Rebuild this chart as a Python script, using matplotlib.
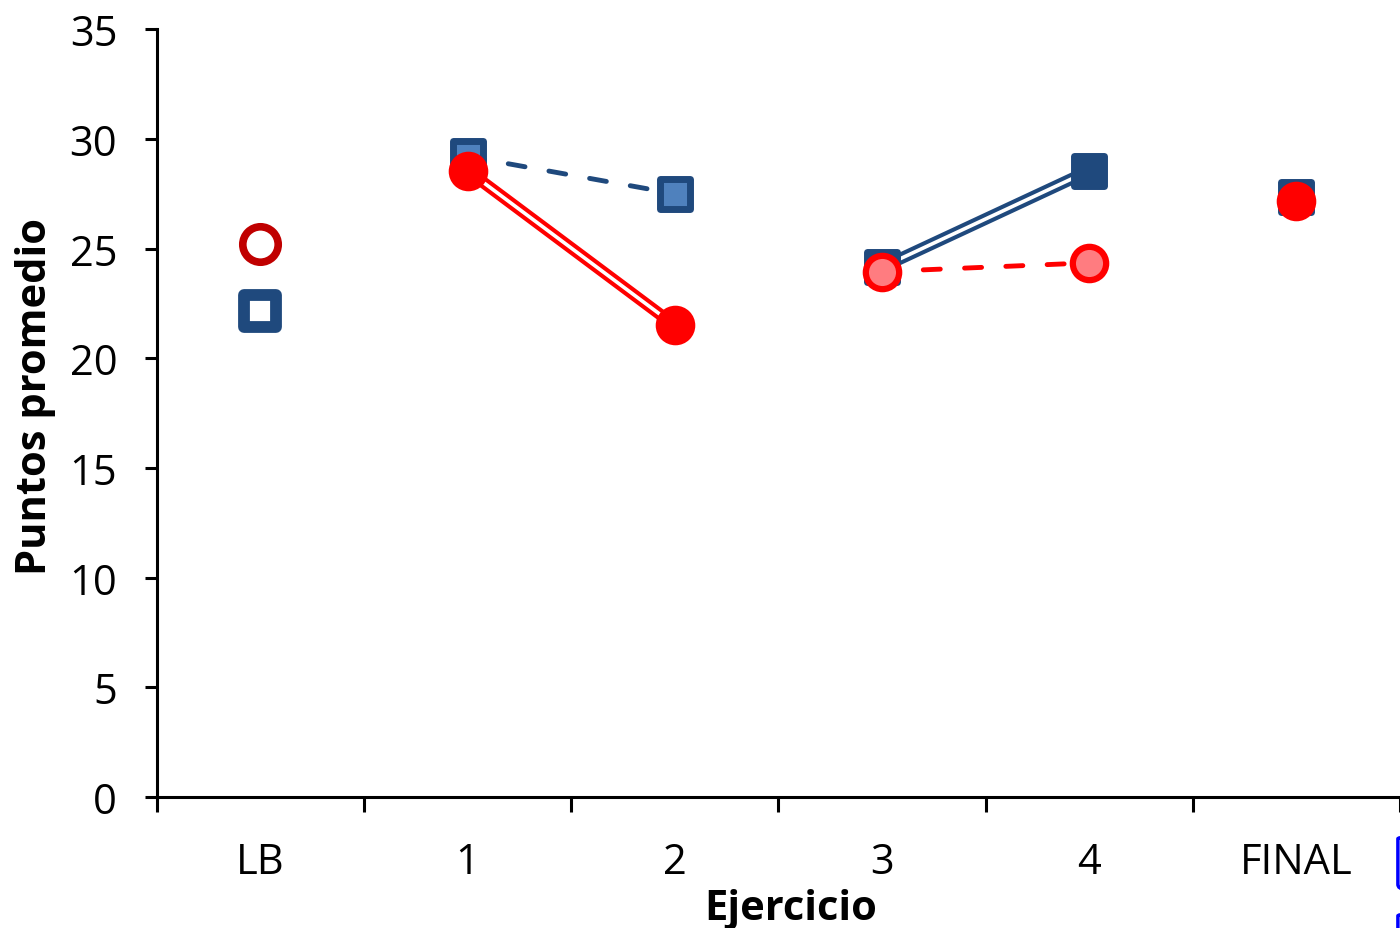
import matplotlib
matplotlib.use("Agg")
import matplotlib.pyplot as plt
from matplotlib.markers import MarkerStyle
from matplotlib.patches import FancyBboxPatch

plt.rcParams['font.family'] = ['Open Sans', 'DejaVu Sans']

categories = ['LB', '1', '2', '3', '4', 'FINAL']
blue_vals = [22.15, 29.2, 27.5, 24.15, 28.55, 27.35]
red_vals = [25.2, 28.55, 21.5, 23.95, 24.35, 27.15]

dark_blue = '#1F497D'
mid_blue = '#4F81BD'
red = '#FF0000'
dark_red = '#C00000'
light_red = '#FF7C80'

# marker face colours per point
blue_face = ['white', mid_blue, mid_blue, dark_blue, dark_blue, dark_blue]
red_face = ['white', red, red, light_red, light_red, red]

sq = MarkerStyle('s', joinstyle='round')

fig = plt.figure(figsize=(14, 9.29), dpi=100)
ax = fig.add_axes([0.112, 0.141, 0.888, 0.8265])
x = list(range(len(categories)))

# connecting lines
ax.plot(x[1:3], blue_vals[1:3], '--', color=dark_blue, lw=3.5, dashes=(3.5, 5),
        dash_capstyle='round', zorder=2)
ax.plot(x[3:5], blue_vals[3:5], '-', color=dark_blue, lw=8.5, zorder=2)
ax.plot(x[3:5], blue_vals[3:5], '-', color='white', lw=2.6, zorder=2)
ax.plot(x[1:3], red_vals[1:3], '-', color=red, lw=8.5, zorder=3)
ax.plot(x[1:3], red_vals[1:3], '-', color='white', lw=2.6, zorder=3)
ax.plot(x[3:5], red_vals[3:5], '--', color=red, lw=3.5, dashes=(3.5, 5),
        dash_capstyle='round', zorder=3)

# markers
for i in x:
    if i == 0:
        ax.plot(i, blue_vals[i], marker=sq, ms=23, mew=8.5, mfc='white', mec=dark_blue, zorder=4)
        ax.plot(i, red_vals[i], 'o', ms=25.5, mew=5.5, mfc='white', mec=dark_red, zorder=5)
    else:
        ax.plot(i, blue_vals[i], marker=sq, ms=22, mew=5, mfc=blue_face[i], mec=dark_blue, zorder=4)
        ax.plot(i, red_vals[i], 'o', ms=24, mew=4.5, mfc=red_face[i], mec=red, zorder=5)

ax.set_xlim(-0.5, 5.5)
ax.set_ylim(0, 35)
ax.set_yticks(range(0, 36, 5))
ax.set_xticks(x)
ax.set_xticklabels(categories)
ax.set_xticks([i - 0.5 for i in range(7)], minor=True)
ax.tick_params(axis='x', which='major', length=0, pad=32, labelsize=30)
ax.tick_params(axis='x', which='minor', length=11, width=2.2, direction='out')
ax.tick_params(axis='y', length=8.5, width=2.2, direction='out', pad=20, labelsize=30)

for s in ['top', 'right']:
    ax.spines[s].set_visible(False)
for s in ['left', 'bottom']:
    ax.spines[s].set_linewidth(2.2)

ax.set_xlabel('Ejercicio', fontsize=30, fontweight='bold', labelpad=3)
ax.set_ylabel('Puntos promedio', fontsize=30, fontweight='bold', labelpad=10)
ax.xaxis.label.set_x(0.51)
ax.yaxis.label.set_y(0.523)

# edges of legend boxes cut off at the right border
for yb, h in [(0.042, 0.059), (-0.05, 0.068)]:
    fig.patches.append(FancyBboxPatch((0.9985, yb), 0.1, h,
                                      boxstyle='round,pad=0,rounding_size=0.005',
                                      transform=fig.transFigure, fill=False,
                                      edgecolor='#0000FF', lw=2.5))

plt.savefig('out.png', dpi=100)
